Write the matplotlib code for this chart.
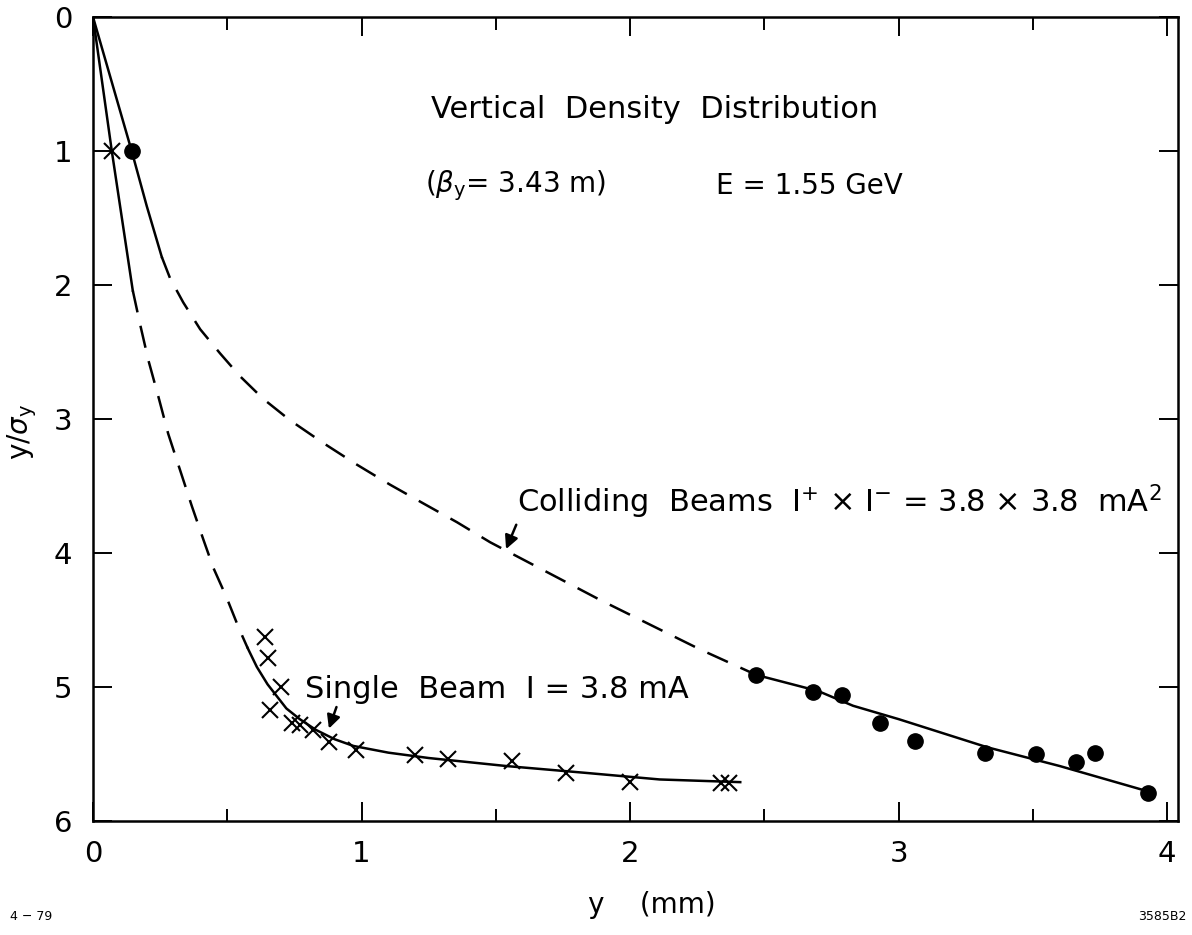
import matplotlib
matplotlib.use("Agg")
import matplotlib.pyplot as plt
from matplotlib.ticker import MultipleLocator

# single beam (crosses)
single_x = [0.07, 0.64, 0.65, 0.70, 0.66, 0.74, 0.77, 0.82, 0.88, 0.98, 1.20, 1.32, 1.56, 1.76, 2.00, 2.34, 2.37]
single_y = [1.00, 4.63, 4.78, 5.00, 5.17, 5.27, 5.28, 5.32, 5.41, 5.47, 5.51, 5.54, 5.55, 5.64, 5.71, 5.72, 5.72]

# colliding beams (dots)
coll_x = [0.144, 2.47, 2.68, 2.79, 2.93, 3.06, 3.32, 3.51, 3.66, 3.73, 3.93]
coll_y = [1.00, 4.91, 5.04, 5.06, 5.27, 5.40, 5.49, 5.50, 5.56, 5.49, 5.79]

# curves drawn through the points
s_top_x = [0.0, 0.07, 0.148]
s_top_y = [0.0, 1.0, 2.04]
s_dash_x = [0.148, 0.175, 0.206, 0.243, 0.280, 0.324, 0.368, 0.411, 0.448, 0.497, 0.545, 0.576]
s_dash_y = [2.04, 2.29, 2.56, 2.83, 3.11, 3.38, 3.65, 3.90, 4.11, 4.33, 4.57, 4.71]
s_low_x = [0.576, 0.61, 0.65, 0.72, 0.77, 0.83, 0.90, 0.97, 1.10, 1.25, 1.54, 1.83, 2.11, 2.41]
s_low_y = [4.71, 4.85, 4.98, 5.16, 5.24, 5.32, 5.39, 5.44, 5.49, 5.53, 5.59, 5.64, 5.69, 5.71]

c_top_x = [0.0, 0.144, 0.20, 0.256]
c_top_y = [0.0, 1.0, 1.41, 1.79]
c_dash_x = [0.256, 0.287, 0.336, 0.399, 0.473, 0.547, 0.634, 0.734, 0.858, 0.982, 1.106, 1.23, 1.355, 1.479, 1.888, 2.261, 2.47]
c_dash_y = [1.79, 1.95, 2.13, 2.33, 2.51, 2.68, 2.85, 3.01, 3.18, 3.34, 3.49, 3.63, 3.77, 3.92, 4.35, 4.72, 4.91]
c_low_x = [2.47, 2.70, 2.83, 3.00, 3.33, 3.60, 3.93]
c_low_y = [4.91, 5.03, 5.14, 5.24, 5.45, 5.59, 5.78]

fig = plt.figure(figsize=(11.92, 9.35), dpi=100)
ax = fig.add_axes([93/1192, 1-821/935, (1178-93)/1192, (821-17)/935])

lw = 1.8
dash = (9, 5.5)
ax.plot(s_top_x, s_top_y, color='black', lw=lw)
ax.plot(s_dash_x, s_dash_y, color='black', lw=lw, dashes=dash)
ax.plot(s_low_x, s_low_y, color='black', lw=lw)
ax.plot(c_top_x, c_top_y, color='black', lw=lw)
ax.plot(c_dash_x, c_dash_y, color='black', lw=lw, dashes=dash)
ax.plot(c_low_x, c_low_y, color='black', lw=lw)

ax.plot(single_x, single_y, 'x', color='black', ms=12, mew=1.5)
ax.plot(coll_x, coll_y, 'o', color='black', ms=11)

ax.set_xlim(0, 4.04)
ax.set_ylim(6, 0)
ax.xaxis.set_major_locator(MultipleLocator(1))
ax.xaxis.set_minor_locator(MultipleLocator(0.5))
ax.yaxis.set_major_locator(MultipleLocator(1))
ax.tick_params(which='both', direction='in', top=True, right=True, width=1.4, labelsize=21)
ax.tick_params(which='major', length=14)
ax.tick_params(which='minor', length=9)
ax.tick_params(axis='x', pad=14)
ax.tick_params(axis='y', pad=15)
for s in ax.spines.values():
    s.set_linewidth(1.8)

fs = 22
ax.text(1.26, 0.69, 'Vertical  Density  Distribution', fontsize=fs, va='center')
ax.text(1.235, 1.26, r'($\beta_{\rm y}$= 3.43 m)', fontsize=20, va='center')
ax.text(2.32, 1.26, 'E = 1.55 GeV', fontsize=20, va='center')
ax.text(1.58, 3.62, r'Colliding  Beams  Ⅰ$^{+}$ × Ⅰ$^{-}$ = 3.8 × 3.8  mA$^{2}$', fontsize=fs, va='center')
ax.text(0.79, 5.02, 'Single  Beam  Ⅰ = 3.8 mA', fontsize=fs, va='center')

ax.annotate('', xy=(1.534, 3.99), xytext=(1.58, 3.77),
            arrowprops=dict(arrowstyle='-|>', color='black', lw=1.8, mutation_scale=20))
ax.annotate('', xy=(0.875, 5.33), xytext=(0.91, 5.13),
            arrowprops=dict(arrowstyle='-|>', color='black', lw=1.8, mutation_scale=20))

fig.text(22/1192, 1-432/935, r'y/$\sigma_{\rm y}$', rotation=90, fontsize=20, ha='center', va='center')
fig.text(652/1192, 1-905/935, 'y    (mm)', fontsize=20, ha='center', va='center')
fig.text(10/1192, 1-917/935, '4 − 79', fontsize=9, ha='left', va='center')
fig.text(1186/1192, 1-917/935, '3585B2', fontsize=9, ha='right', va='center')

fig.savefig('out.png', dpi=100)
